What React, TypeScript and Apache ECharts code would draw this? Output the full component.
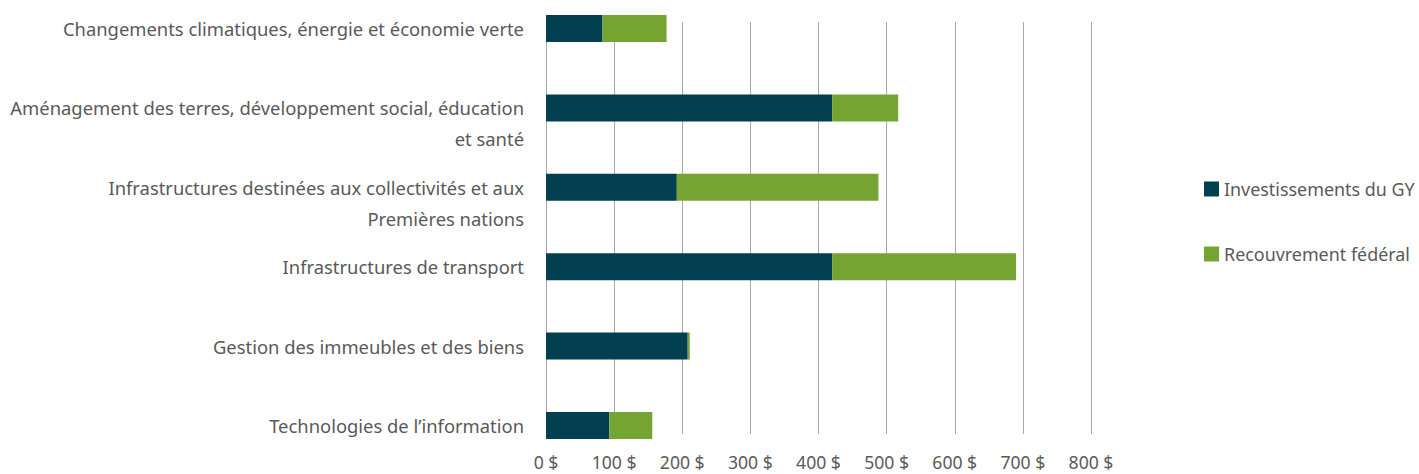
import React, { useEffect, useRef } from "react";
import * as echarts from "echarts";

const categories = [
  "Changements climatiques, énergie et économie verte",
  "Aménagement des terres, développement social, éducation\net santé",
  "Infrastructures destinées aux collectivités et aux\nPremières nations",
  "Infrastructures de transport",
  "Gestion des immeubles et des biens",
  "Technologies de l’information",
];
const seriesNames = ["Investissements du GY", "Recouvrement fédéral"];
const gyValues = [83, 420, 192, 420, 208, 93];
const fedValues = [94, 97, 296, 270, 3, 63];
const xTicks = [0, 100, 200, 300, 400, 500, 600, 700, 800];

const FONT = "'Noto Sans', sans-serif";
const TEXT = "#595959";
const FS = 18.4;

export default function App() {
  const ref = useRef<HTMLDivElement>(null);
  useEffect(() => {
    if (!ref.current) return;
    const chart = echarts.init(ref.current, undefined, { renderer: "svg" });
    chart.setOption({
      animation: false,
      textStyle: { fontFamily: FONT },
      legend: {
        orient: "vertical",
        left: 1199,
        top: 174,
        itemWidth: 15,
        itemHeight: 15,
        itemGap: 45,
        icon: "rect",
        textStyle: { fontFamily: FONT, fontSize: 17.9, lineHeight: 20, color: TEXT, padding: [0, 0, 0, 0] },
        data: seriesNames,
      },
      grid: [
        { left: 546, width: 545, top: 28.5, height: 397 },
        { left: 546, width: 545, top: 22, height: 412 },
      ],
      xAxis: [
        { type: "value", gridIndex: 0, min: xTicks[0], max: xTicks[xTicks.length - 1], interval: 100, show: false },
        {
          type: "value",
          gridIndex: 1,
          min: xTicks[0],
          max: xTicks[xTicks.length - 1],
          interval: 100,
          axisLine: { show: false },
          axisTick: { show: false },
          splitLine: { show: true, lineStyle: { color: "#a8a8a8", width: 1 } },
          axisLabel: {
            margin: 19,
            fontFamily: FONT,
            fontSize: 17.6,
            color: TEXT,
            formatter: (v: number) => `${v} $`,
          },
        },
      ],
      yAxis: [
        {
          type: "category",
          gridIndex: 0,
          inverse: true,
          boundaryGap: false,
          data: categories,
          axisLine: { show: false },
          axisTick: { show: false },
          splitLine: { show: false },
          axisLabel: {
            margin: 22,
            fontFamily: FONT,
            fontSize: FS,
            color: TEXT,
            lineHeight: 31,
            align: "right",
            formatter: (v: string) => (v.includes("\n") ? "\n" + v : v),
          },
        },
        { type: "value", gridIndex: 1, min: 0, max: 1, show: false },
      ],
      series: [
        {
          name: seriesNames[0],
          type: "bar",
          stack: "total",
          xAxisIndex: 0,
          yAxisIndex: 0,
          barWidth: 27,
          itemStyle: { color: "#013f51" },
          data: gyValues,
        },
        {
          name: seriesNames[1],
          type: "bar",
          stack: "total",
          xAxisIndex: 0,
          yAxisIndex: 0,
          barWidth: 27,
          itemStyle: { color: "#76a433" },
          data: fedValues,
        },
      ],
    });
    return () => chart.dispose();
  }, []);
  return (
    <div
      ref={ref}
      style={{ position: "fixed", left: 0, top: 0, width: 1419, height: 474, background: "#fff" }}
    />
  );
}
